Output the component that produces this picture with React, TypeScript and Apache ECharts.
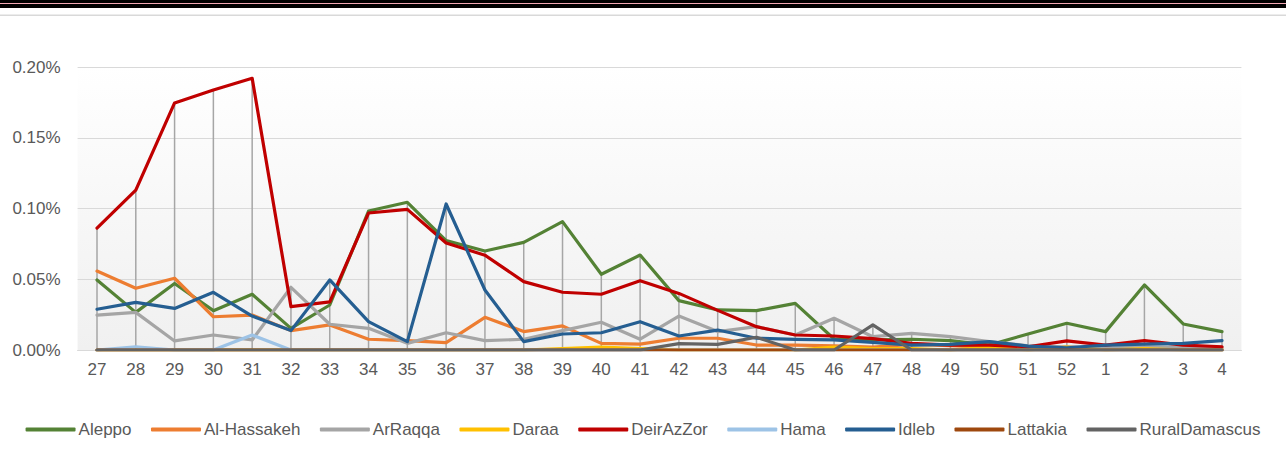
import React, { useEffect, useRef } from "react";
import * as echarts from "echarts";

const weeks = ["27","28","29","30","31","32","33","34","35","36","37","38","39","40","41","42","43","44","45","46","47","48","49","50","51","52","1","2","3","4"];

const aleppo = [0.0495,0.0266,0.047,0.0278,0.0394,0.0153,0.0318,0.0982,0.1044,0.0773,0.070,0.0761,0.0907,0.0535,0.0671,0.0349,0.0283,0.0278,0.033,0.0078,0.0071,0.0076,0.0066,0.0035,0.0113,0.0189,0.013,0.046,0.0184,0.013];
const alHassakeh = [0.0558,0.0436,0.0507,0.0235,0.0247,0.0137,0.0177,0.0076,0.0066,0.0052,0.0231,0.013,0.017,0.0047,0.0042,0.0083,0.0083,0.0035,0.0035,0.003,0.002,0.004,0.003,0.002,0.002,0.002,0.001,0.002,0.001,0.001];
const arRaqqa = [0.0247,0.0266,0.0064,0.0106,0.0071,0.0443,0.0182,0.0153,0.0047,0.0122,0.0066,0.0076,0.0137,0.0196,0.0076,0.024,0.013,0.0165,0.0106,0.0224,0.0094,0.0118,0.0094,0.006,0.003,0.002,0.002,0.002,0.002,0.002];
const daraa = [0,0,0,0,0,0,0,0,0,0,0,0,0.001,0.002,0.001,0,0,0,0,0.002,0.001,0.001,0,0.002,0,0.002,0,0.001,0,0];
const deirAzZor = [0.0862,0.113,0.1746,0.1837,0.192,0.0306,0.034,0.0968,0.0994,0.0756,0.067,0.0483,0.0408,0.0394,0.049,0.040,0.028,0.0165,0.0106,0.0099,0.008,0.0047,0.0035,0.0035,0.0023,0.0064,0.0035,0.0066,0.0035,0.0023];
const hama = [0,0.0023,0,0,0.0106,0,0,0,0,0,0,0,0,0,0,0,0,0,0,0,0,0,0,0,0,0,0,0,0,0];
const idleb = [0.0288,0.0337,0.0294,0.0408,0.024,0.0137,0.0495,0.020,0.0059,0.1032,0.0424,0.0059,0.0113,0.0122,0.020,0.0099,0.0141,0.0083,0.0075,0.0071,0.0054,0.0035,0.004,0.0059,0.0028,0.0016,0.0035,0.0042,0.0047,0.0066];
const lattakia = [0,0,0,0,0,0,0,0,0,0,0,0,0,0,0,0,0,0,0,0,0,0,0,0,0,0,0,0,0,0];
const ruralDamascus = [0,0,0,0,0,0,0,0,0,0,0,0,0,0,0,0.0045,0.004,0.009,0,0,0.0177,0,0,0,0,0,0,0,0,0];

const yTicks = [0, 0.05, 0.1, 0.15, 0.2];

const seriesDefs = [
  { name: "Aleppo", data: aleppo, color: "#548235" },
  { name: "Al-Hassakeh", data: alHassakeh, color: "#ed7d31" },
  { name: "ArRaqqa", data: arRaqqa, color: "#a5a5a5" },
  { name: "Daraa", data: daraa, color: "#ffc000" },
  { name: "DeirAzZor", data: deirAzZor, color: "#c00000" },
  { name: "Hama", data: hama, color: "#9dc3e6" },
  { name: "Idleb", data: idleb, color: "#255e91" },
  { name: "Lattakia", data: lattakia, color: "#9e480e" },
  { name: "RuralDamascus", data: ruralDamascus, color: "#636363" },
];

export default function App() {
  const ref = useRef<HTMLDivElement>(null);
  useEffect(() => {
    document.body.style.margin = "0";
    if (!ref.current) return;
    const chart = echarts.init(ref.current, null, { renderer: "svg" });
    const hiLo = weeks.map((_, i) => {
      const vals = seriesDefs.map((s) => s.data[i]);
      return [i, Math.max(...vals), Math.min(...vals)];
    });
    const font = "'Liberation Sans', Arial, sans-serif";
    chart.setOption({
      animation: false,
      textStyle: { fontFamily: font },
      graphic: [
        { type: "rect", shape: { x: 0, y: 0, width: 1286, height: 8 }, style: { fill: "#000" } },
        { type: "rect", shape: { x: 0, y: 3, width: 1286, height: 1 }, style: { fill: "#f2a7b3" } },
        { type: "rect", shape: { x: 0, y: 14.5, width: 1286, height: 1.5 }, style: { fill: "#d9d9d9" } },
      ],
      grid: {
        left: 77.6,
        right: 44.6,
        top: 67,
        bottom: 107,
        show: true,
        borderWidth: 0,
        backgroundColor: new echarts.graphic.LinearGradient(0, 0, 0, 1, [
          { offset: 0, color: "#ffffff" },
          { offset: 1, color: "#f0f0f0" },
        ]),
      },
      legend: {
        bottom: 14,
        left: "center",
        itemWidth: 50,
        itemHeight: 4,
        itemGap: 19.5,
        icon: "roundRect",
        data: seriesDefs.map((s) => s.name),
        textStyle: { fontSize: 17, color: "#595959", fontFamily: font, padding: [0, 0, 0, -2] },
      },
      xAxis: {
        type: "category",
        data: weeks,
        boundaryGap: true,
        axisLine: { show: true, lineStyle: { color: "#d9d9d9" } },
        axisTick: { show: false },
        axisLabel: { fontSize: 17, color: "#595959", margin: 11, fontFamily: font },
        splitLine: { show: false },
      },
      yAxis: {
        type: "value",
        min: 0,
        max: 0.2,
        interval: 0.05,
        axisLine: { show: false },
        axisTick: { show: false },
        axisLabel: {
          fontSize: 17,
          color: "#595959",
          margin: 17,
          fontFamily: font,
          formatter: (v: number) => (yTicks.includes(Math.round(v * 100) / 100) ? v.toFixed(2) + "%" : ""),
        },
        splitLine: { show: true, lineStyle: { color: "#d9d9d9", width: 1 } },
      },
      series: [
        {
          type: "custom",
          name: "hilo",
          z: 1,
          silent: true,
          data: hiLo,
          encode: { x: 0, y: [1, 2] },
          renderItem: (params: any, api: any) => {
            const x = api.value(0);
            const p1 = api.coord([x, api.value(1)]);
            const p2 = api.coord([x, api.value(2)]);
            return {
              type: "line",
              shape: { x1: p1[0], y1: p1[1], x2: p2[0], y2: p2[1] },
              style: { stroke: "#a6a6a6", lineWidth: 1.5 },
            };
          },
        },
        ...seriesDefs.map((s) => ({
          type: "line",
          name: s.name,
          data: s.data,
          z: 2,
          symbol: "none",
          color: s.color,
          lineStyle: { color: s.color, width: 3.2, cap: "round", join: "round" },
        })),
      ],
    });
    return () => chart.dispose();
  }, []);
  return <div ref={ref} style={{ width: 1286, height: 457 }} />;
}
